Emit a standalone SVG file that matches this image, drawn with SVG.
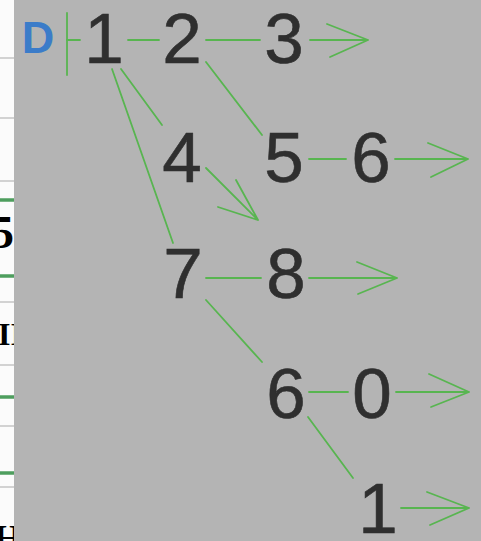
<svg xmlns="http://www.w3.org/2000/svg" width="481" height="541" viewBox="0 0 481 541">
  <defs>
    <clipPath id="strip"><rect x="0" y="0" width="14" height="541"/></clipPath>
    <style>
      .d { font-family: "Liberation Sans", Arial, sans-serif; font-size: 71px; fill: #2f2f2f; stroke: #2f2f2f; stroke-width: 0.6; text-anchor: middle; }
      .c { stroke: #58b550; stroke-width: 1.8; fill: none; stroke-linecap: round; stroke-linejoin: round; }
      .g { stroke: #d2d2d2; stroke-width: 2; }
      .gb { stroke: #4e9e5e; stroke-width: 3.5; }
      .s { font-family: "Liberation Serif", "Times New Roman", serif; font-weight: bold; fill: #000; }
    </style>
  </defs>
  <rect width="481" height="541" fill="#b4b4b4"/>
  <g id="strip-left" clip-path="url(#strip)">
    <rect x="0" y="0" width="14" height="541" fill="#fbfbfb"/>
    <line class="g" x1="0" y1="58" x2="14" y2="58"/>
    <line class="g" x1="0" y1="118" x2="14" y2="118"/>
    <line class="g" x1="0" y1="181" x2="14" y2="181"/>
    <line class="g" x1="0" y1="302" x2="14" y2="302"/>
    <line class="g" x1="0" y1="365" x2="14" y2="365"/>
    <line class="g" x1="0" y1="426" x2="14" y2="426"/>
    <line class="g" x1="0" y1="487" x2="14" y2="487"/>
    <line class="gb" x1="0" y1="200" x2="14" y2="200"/>
    <line class="gb" x1="0" y1="276" x2="14" y2="276"/>
    <line class="gb" x1="0" y1="397" x2="14" y2="397"/>
    <line class="gb" x1="0" y1="473" x2="14" y2="473"/>
    <text class="s" x="-9" y="248" font-size="46">5</text>
    <text class="s" x="-2" y="345" font-size="32">II</text>
    <text class="s" x="-6" y="550" font-size="36">H</text>
  </g>
  <g id="label-D">
    <text x="38" y="53" font-family="Liberation Sans, Arial, sans-serif" font-weight="bold" font-size="45" fill="#3b7cc9" text-anchor="middle">D</text>
  </g>
  <g id="connectors" class="c">
    <line x1="67" y1="13" x2="67" y2="75"/>
    <line x1="67" y1="40" x2="80" y2="40"/>
    <line x1="128" y1="40" x2="159" y2="40"/>
    <line x1="206" y1="40" x2="260" y2="40"/>
    <path d="M310 40 H368 M327 24 L368 40 L330 57"/>
    <line x1="206" y1="62" x2="262" y2="135"/>
    <line x1="121" y1="69" x2="162" y2="125"/>
    <line x1="112" y1="69" x2="173" y2="243"/>
    <line x1="309" y1="159" x2="346" y2="159"/>
    <path d="M395 159 H468 M428 143 L468 159 L431 177"/>
    <path d="M206 168 L258 220 M236 180 L258 220 L218 207"/>
    <line x1="206" y1="278" x2="261" y2="278"/>
    <path d="M309 278 H397 M357 262 L397 278 L358 294"/>
    <line x1="206" y1="300" x2="262" y2="362"/>
    <line x1="309" y1="392" x2="348" y2="392"/>
    <path d="M396 392 H469 M429 374 L469 392 L431 407"/>
    <line x1="308" y1="417" x2="353" y2="478"/>
    <path d="M401 508 H469 M427 492 L469 508 L430 525"/>
  </g>
  <g id="n1"><text class="d" x="104" y="63">1</text></g>
  <g id="n2"><text class="d" x="182" y="63">2</text></g>
  <g id="n3"><text class="d" x="284" y="63">3</text></g>
  <g id="n4"><text class="d" x="182" y="182">4</text></g>
  <g id="n5"><text class="d" x="284" y="182">5</text></g>
  <g id="n6a"><text class="d" x="371" y="182">6</text></g>
  <g id="n7"><text class="d" x="183" y="298">7</text></g>
  <g id="n8"><text class="d" x="286" y="298">8</text></g>
  <g id="n6b"><text class="d" x="286" y="418">6</text></g>
  <g id="n0"><text class="d" x="372" y="418">0</text></g>
  <g id="n1b"><text class="d" x="378" y="533">1</text></g>
</svg>
